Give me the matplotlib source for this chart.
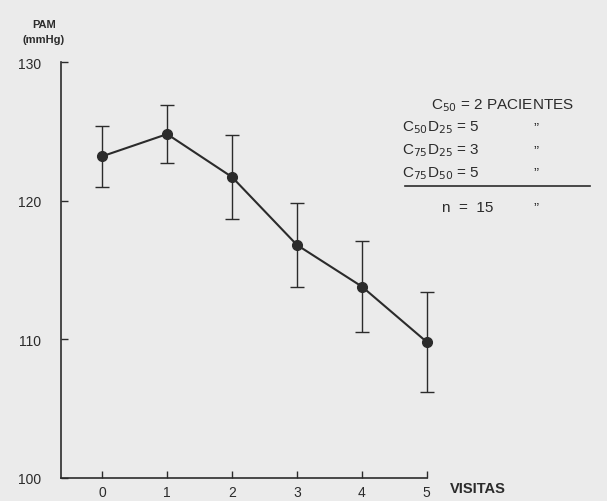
import matplotlib
matplotlib.use("Agg")
import matplotlib.pyplot as plt

visits = [0, 1, 2, 3, 4, 5]
pam_mean = [123.2, 124.8, 121.7, 116.8, 113.8, 109.8]
pam_err = [2.2, 2.1, 3.05, 3.05, 3.3, 3.6]
y_ticks = [100, 110, 120, 130]
y_tick_labels = ["100", "110", "120", "130"]

bg = "#ebebeb"
ink = "#2b2b2b"

plt.rcParams["font.family"] = ["Liberation Sans", "DejaVu Sans"]

fig = plt.figure(figsize=(6.07, 5.02), dpi=100, facecolor=bg)
ax = fig.add_axes([0.100, 0.0464, 0.603, 0.828], facecolor=bg)

ax.errorbar(visits, pam_mean, yerr=pam_err, fmt="o-", color=ink, ecolor=ink,
            markersize=7, linewidth=1.5, elinewidth=1.0, capsize=5, capthick=1.0)
for a in ax.get_children():
    try:
        a.set_clip_on(False)
    except Exception:
        pass

ax.set_xlim(-0.64, 5.0)
ax.set_ylim(100, 130)
ax.set_xticks(visits)
ax.set_xticklabels([str(v) for v in visits], fontsize=10, color=ink)
ax.set_yticks(y_ticks)
ax.set_yticklabels(y_tick_labels, fontsize=10, color=ink)
ax.tick_params(axis="both", direction="in", length=5, width=1, color=ink)
ax.tick_params(axis="x", pad=5)
ax.tick_params(axis="y", pad=14)
for s in ["top", "right"]:
    ax.spines[s].set_visible(False)
for s in ["left", "bottom"]:
    ax.spines[s].set_color(ink)
    ax.spines[s].set_linewidth(1.2)

fig.text(0.072, 0.945, "PAM", fontsize=8, color=ink, ha="center", fontweight="bold")
fig.text(0.072, 0.915, "(mmHg)", fontsize=8, color=ink, ha="center", fontweight="bold")
fig.text(0.742, 0.018, "VISITAS", fontsize=10.5, color=ink, ha="left", fontweight="bold")

fs = 11
lines = [
    (0.710, 0.790, r"C$_{50}$ = 2 PACIENTES"),
    (0.663, 0.745, r"C$_{50}$D$_{25}$ = 5"),
    (0.663, 0.700, r"C$_{75}$D$_{25}$ = 3"),
    (0.663, 0.655, r"C$_{75}$D$_{50}$ = 5"),
    (0.728, 0.585, r"n  =  15"),
]
for x, y, t in lines:
    fig.text(x, y, t, fontsize=fs, color=ink, va="center")
for y in [0.745, 0.700, 0.655, 0.585]:
    fig.text(0.878, y, "\u201d", fontsize=fs, color=ink, va="center")
fig.add_artist(plt.Line2D([0.668, 0.972], [0.627, 0.627], color=ink, linewidth=1.2,
                          transform=fig.transFigure))

fig.savefig("out.png", dpi=100, facecolor=bg)
